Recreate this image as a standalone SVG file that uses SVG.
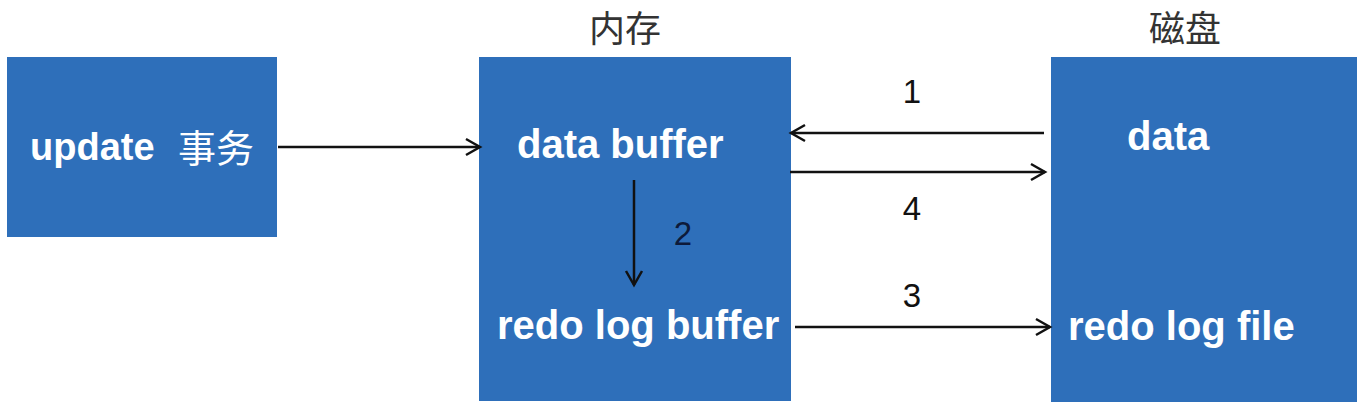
<svg xmlns="http://www.w3.org/2000/svg" width="1363" height="411" viewBox="0 0 1363 411">
<style>
.box{fill:#2E6FBA;}
.lbl{font-family:"Liberation Sans",Arial,"Noto Sans CJK SC",sans-serif;font-weight:bold;font-size:40px;fill:#ffffff;}
.cjk{font-family:"Noto Sans CJK SC",sans-serif;font-weight:normal;font-size:38px;fill:#ffffff;}
.title{font-family:"Noto Sans CJK SC",sans-serif;font-size:36px;fill:#333333;text-anchor:middle;}
.num{font-family:"Liberation Sans",Arial,sans-serif;font-size:33px;fill:#111111;text-anchor:middle;}
.conn{stroke:#111111;stroke-width:2.5;fill:none;marker-end:url(#arr);}
</style>
<defs>
<marker id="arr" markerUnits="userSpaceOnUse" markerWidth="18" markerHeight="20" refX="15" refY="9" orient="auto" viewBox="0 0 18 18">
<path d="M1,1 L15,9 L1,17" fill="none" stroke="#111111" stroke-width="2.5"/>
</marker>
</defs>
<rect width="1363" height="411" fill="#ffffff"/>
<text class="title" x="625" y="42">内存</text>
<text class="title" x="1185" y="42">磁盘</text>
<g id="update">
<rect class="box" x="7" y="57" width="270" height="180"/>
<text class="lbl" x="30" y="160" style="font-size:38px">update</text>
<text class="cjk" x="178" y="162">事务</text>
</g>
<g id="memory">
<rect class="box" x="479" y="57" width="312" height="344"/>
<text class="lbl" x="517" y="158">data buffer</text>
<text class="lbl" x="497" y="339">redo log buffer</text>
</g>
<g id="disk">
<rect class="box" x="1051" y="57" width="306" height="345"/>
<text class="lbl" x="1127" y="150">data</text>
<text class="lbl" x="1068" y="340">redo log file</text>
</g>
<g id="connectors">
<line class="conn" x1="278" y1="147" x2="480" y2="147"/>
<line class="conn" x1="1044" y1="133" x2="791" y2="133"/>
<line class="conn" x1="790" y1="172" x2="1045" y2="172"/>
<line class="conn" x1="634" y1="180" x2="634" y2="285"/>
<line class="conn" x1="795" y1="327" x2="1050" y2="327"/>
<text class="num" x="912" y="103">1</text>
<text class="num" x="683" y="245" style="fill:#0d1a3a">2</text>
<text class="num" x="912" y="307">3</text>
<text class="num" x="912" y="220">4</text>
</g>
</svg>
